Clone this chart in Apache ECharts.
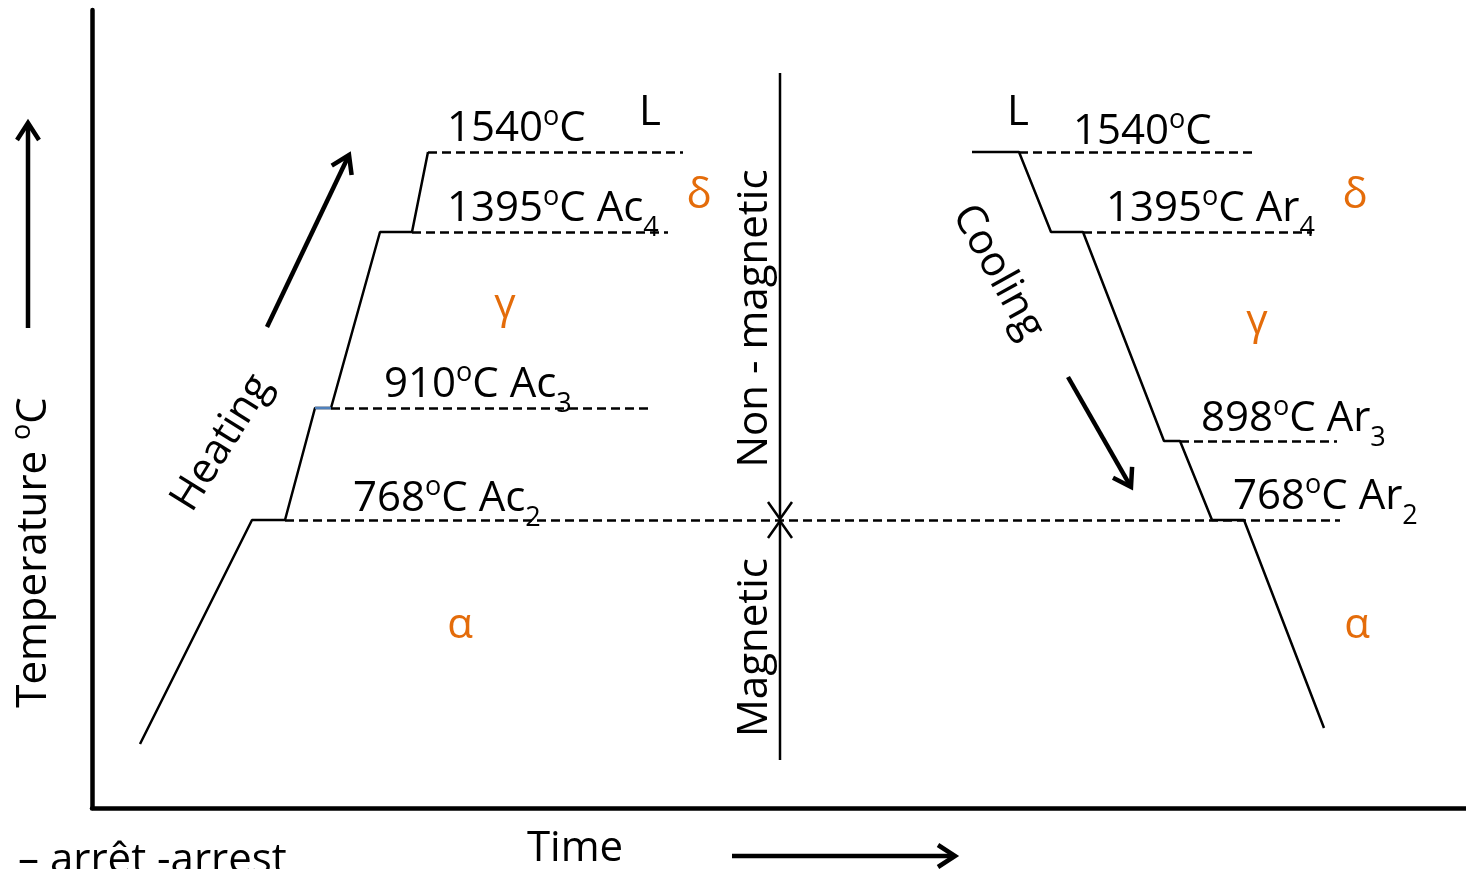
<!DOCTYPE html>
<html>
<head>
<meta charset="utf-8">
<script src="https://cdn.jsdelivr.net/npm/echarts@6/dist/echarts.min.js"></script>
<style>
  html, body { margin: 0; padding: 0; background: #ffffff; }
  #chart { width: 1466px; height: 869px; }
</style>
</head>
<body>
<div id="chart"></div>
<script>
// Schematic heating / cooling curve of pure iron with its arrest points.
// x = time (arbitrary units), y = schematic temperature height (arbitrary units).

const FONT = '"Open Sans", sans-serif';
const ORANGE = '#E46C0A';
const BLUE = '#4F81BD';

// Heating curve (the 910 °C arrest is the 4th -> 5th point)
const heatingTime = [48, 160, 193, 223, 239, 288, 320, 336];
const heatingTemp = [64, 288, 288, 400, 400, 576, 576, 656];

// Cooling curve
const coolingTime = [880, 927, 959, 991, 1072, 1088, 1120, 1152, 1232];
const coolingTemp = [656, 656, 576, 576, 367, 367, 288, 288, 80];

// Dashed isotherms on heating: 1540, 1395 (Ac4), 910 (Ac3), 768 (Ac2)
const heatLevel = [656, 576, 400, 288];
const heatFrom  = [336, 320, 239, 193];
const heatTo    = [591, 576, 556, 1248];

// Dashed isotherms on cooling: 1540, 1395 (Ar4), 898 (Ar3)
const coolLevel = [656, 576, 367];
const coolFrom  = [927, 991, 1088];
const coolTo    = [1163, 1220, 1245];

// Magnetic / non-magnetic divider meeting the Curie isotherm
const dividerTime = 688;
const dividerTop = 735;
const dividerBottom = 48;
const curieLevel = 288;

// Temperature labels (rich text: n = normal, s = superscript, b = subscript)
const tempText = [
  '{n|1540}{s|o}{n|C}',
  '{n|1395}{s|o}{n|C Ac}{b|4}',
  '{n|910}{s|o}{n|C Ac}{b|3}',
  '{n|768}{s|o}{n|C Ac}{b|2}',
  '{n|1540}{s|o}{n|C}',
  '{n|1395}{s|o}{n|C Ar}{b|4}',
  '{n|898}{s|o}{n|C Ar}{b|3}',
  '{n|768}{s|o}{n|C Ar}{b|2}'
];
const tempTextX = [355, 355, 292, 261, 981, 1014, 1109, 1141];
const tempTextY = [679, 599, 423, 309, 676, 599, 389, 311];

// Phase symbols
const phaseText = ['L', 'δ', 'γ', 'α', 'L', 'δ', 'γ', 'α'];
const phaseX = [558, 607, 413, 368, 926, 1263, 1165, 1265];
const phaseY = [695, 612, 502, 182, 695, 612, 486, 182];

// Direction words
const wordText = ['Heating', 'Cooling', 'Non - magnetic', 'Magnetic'];
const wordX = [130, 906, 663, 663];
const wordY = [365, 536, 489.5, 160.5];
const wordAngle = [58, -61, 90, 90];

// Bold arrows: heating, cooling, temperature axis, time axis
const arrowFrom = [[175, 481], [976, 431], [-64, 480], [640, -48]];
const arrowTo   = [[257, 653], [1039, 321], [-64, 685], [863, -48]];

const rich = {
  n: { fontFamily: FONT, fontSize: 42, lineHeight: 50, color: '#000' },
  s: { fontFamily: FONT, fontSize: 27, lineHeight: 24, verticalAlign: 'top', color: '#000' },
  b: { fontFamily: FONT, fontSize: 27, verticalAlign: 'bottom', padding: [0, 0, -8, 0], color: '#000' }
};

function arrowRenderer(lineWidth, headLen, headHalf) {
  return function (params, api) {
    const p1 = api.coord([api.value(0), api.value(1)]);
    const p2 = api.coord([api.value(2), api.value(3)]);
    const dx = p2[0] - p1[0], dy = p2[1] - p1[1];
    const len = Math.hypot(dx, dy);
    const ux = dx / len, uy = dy / len;
    const bx = p2[0] - ux * headLen, by = p2[1] - uy * headLen;
    const nx = -uy, ny = ux;
    const style = { stroke: '#000', lineWidth: lineWidth, fill: null, lineCap: 'butt', lineJoin: 'miter' };
    return {
      type: 'group',
      children: [
        { type: 'line', shape: { x1: p1[0], y1: p1[1], x2: p2[0] - ux * lineWidth * 0.5, y2: p2[1] - uy * lineWidth * 0.5 }, style: style },
        { type: 'polyline', shape: { points: [[bx + nx * headHalf, by + ny * headHalf], [p2[0], p2[1]], [bx - nx * headHalf, by - ny * headHalf]] }, style: style }
      ]
    };
  };
}

const textItem = (x, y, text, opts) => Object.assign({ value: [x, y], text: text }, opts || {});

const labelSeries = (data, align, extra) => ({
  type: 'scatter',
  silent: true,
  clip: false,
  symbolSize: 1,
  itemStyle: { color: 'rgba(0,0,0,0)', opacity: 1 },
  z: 10,
  data: data,
  label: Object.assign({
    show: true,
    position: 'inside',
    align: align,
    verticalAlign: 'middle',
    formatter: p => p.data.text,
    fontFamily: FONT,
    fontSize: 42,
    color: '#000',
    opacity: 1,
    textBorderWidth: 0,
    rich: rich
  }, extra || {})
});

const chart = echarts.init(document.getElementById('chart'), null, { renderer: 'canvas' });

const option = {
  animation: false,
  backgroundColor: '#ffffff',
  grid: { left: 92, right: 0, top: 10, bottom: 61, containLabel: false },
  xAxis: {
    type: 'value', min: 0, max: 1374,
    axisLine: { show: true, onZero: false, lineStyle: { color: '#000', width: 4.5 } },
    axisTick: { show: false }, axisLabel: { show: false }, splitLine: { show: false }
  },
  yAxis: {
    type: 'value', min: 0, max: 798,
    axisLine: { show: true, onZero: false, lineStyle: { color: '#000', width: 4.5 } },
    axisTick: { show: false }, axisLabel: { show: false }, splitLine: { show: false }
  },
  series: [
    // dashed isotherms
    {
      type: 'lines',
      coordinateSystem: 'cartesian2d',
      silent: true,
      z: 2,
      lineStyle: { color: '#000', width: 2.6, type: [9, 5], opacity: 1 },
      data: heatLevel.map((lv, i) => ({ coords: [[heatFrom[i], lv], [heatTo[i], lv]] }))
        .concat(coolLevel.map((lv, i) => ({ coords: [[coolFrom[i], lv], [coolTo[i], lv]] })))
    },
    // heating curve
    {
      type: 'line', silent: true, symbol: 'none', z: 3,
      lineStyle: { color: '#000', width: 2.5 },
      data: heatingTime.map((t, i) => [t, heatingTemp[i]])
    },
    // 910 °C arrest step
    {
      type: 'line', silent: true, symbol: 'none', z: 4,
      lineStyle: { color: BLUE, width: 2.5 },
      data: heatingTime.slice(3, 5).map((t, i) => [t, heatingTemp[3 + i]])
    },
    // cooling curve
    {
      type: 'line', silent: true, symbol: 'none', z: 3,
      lineStyle: { color: '#000', width: 2.5 },
      data: coolingTime.map((t, i) => [t, coolingTemp[i]])
    },
    // magnetic divider with arrowheads meeting at the Curie isotherm
    {
      type: 'custom', silent: true, clip: false, z: 5,
      renderItem: arrowRenderer(2.5, 17, 12),
      encode: { x: [0, 2], y: [1, 3] },
      data: [
        [dividerTime, dividerTop, dividerTime, curieLevel + 1],
        [dividerTime, dividerBottom, dividerTime, curieLevel - 1]
      ]
    },
    // bold direction arrows
    {
      type: 'custom', silent: true, clip: false, z: 5,
      renderItem: arrowRenderer(4.5, 17, 11),
      encode: { x: [0, 2], y: [1, 3] },
      data: arrowFrom.map((f, i) => [f[0], f[1], arrowTo[i][0], arrowTo[i][1]])
    },
    // temperature labels
    labelSeries(tempText.map((t, i) => textItem(tempTextX[i], tempTextY[i], t)), 'left'),
    // phase symbols
    labelSeries(phaseText.map((t, i) => textItem(phaseX[i], phaseY[i], t, {
      label: { color: t === 'L' ? '#000' : ORANGE, rich: {} }
    })), 'center'),
    // direction words
    labelSeries(wordText.map((t, i) => textItem(wordX[i], wordY[i], t, {
      label: { rotate: wordAngle[i], rich: {} }
    })), 'center'),
    // axis titles and footnote
    labelSeries([
      textItem(-58, 255.5, '{n|Temperature }{s|o}{n|C}', { label: { rotate: 90 } }),
      textItem(483, -41, 'Time')
    ], 'center'),
    labelSeries([textItem(-74, -53, '– arrêt -arrest')], 'left')
  ]
};

chart.setOption(option);
</script>
</body>
</html>
